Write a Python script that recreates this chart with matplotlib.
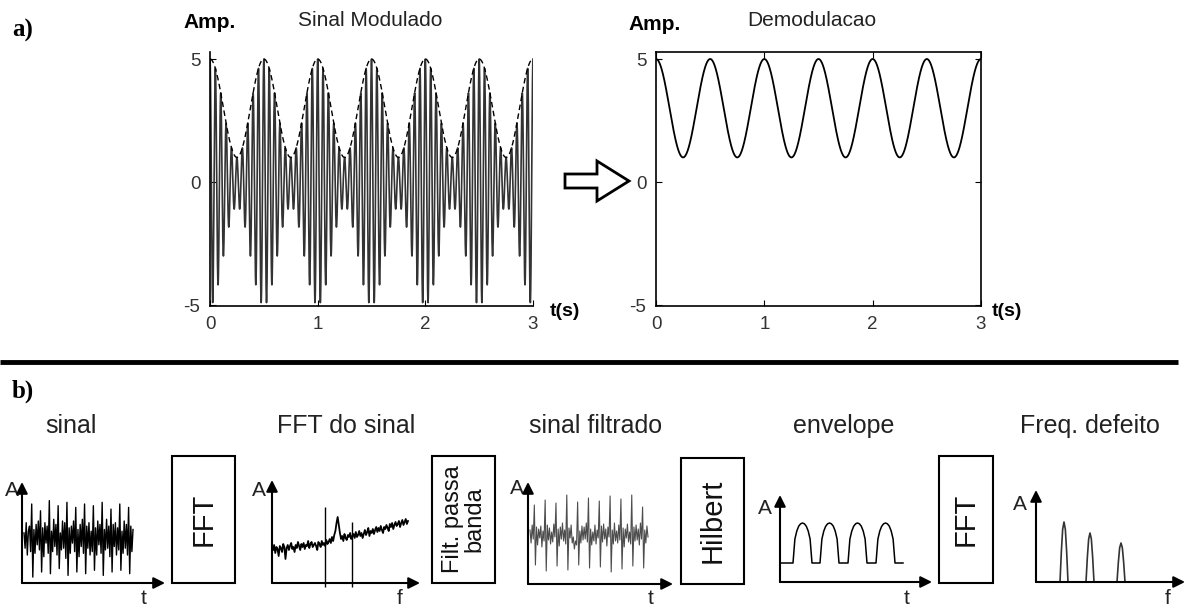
import numpy as np
import matplotlib
matplotlib.use("Agg")
import matplotlib.pyplot as plt
from matplotlib.patches import Rectangle, FancyArrow

plt.rcParams['font.family'] = ['Liberation Sans', 'DejaVu Sans']
plt.rcParams['axes.unicode_minus'] = False

# ---- data ----
# top: AM signal (envelope 1..5, period 0.5 s) and its demodulation
t_ticks = [0, 1, 2, 3]
amp_ticks = [-5, 0, 5]
env_offset = 3.0
env_amp = 2.0
env_freq = 2.0       # Hz
carrier_freq = 20.0  # Hz

# bottom: hand-read traces of the schematic plots
sig_vals = [0.3, -0.6, 0.9, -1.0, 0.4, 0.7, -0.8, 2.0, -2.3, 0.5,
            -0.9, 0.8, -0.4, 1.0, -0.7, 1.6, -2.0, 0.6, -1.1, 0.9,
            -0.3, 0.7, -0.9, 2.2, -2.1, 0.4, -0.8, 1.1, -0.5, 0.8,
            -1.0, 1.9, -1.8, 0.3, -0.7, 1.0, -0.6, 0.9, -1.2, 2.1,
            -2.2, 0.6, -0.9, 0.7, -0.3, 1.0, -0.8, 1.8, -2.0, 0.5,
            -1.1, 0.8, -0.5, 1.1, -0.9, 2.0, -2.1, 0.7, -0.6, 0.9,
            -1.0, 0.4, -0.8, 1.9, -1.9, 0.6, -1.0, 1.0, -0.4, 0.8,
            -0.9, 2.1, -2.2, 0.5, -0.7, 1.1, -0.6, 0.7, -1.1, 1.7,
            -2.0, 0.8, -0.5, 0.9, -1.0, 0.6, -0.7, 2.0, -1.9, 0.4,
            -0.9, 1.0, -0.6, 0.8, -1.0, 1.8, -2.1, 0.7, -0.8, 0.5]

spec_vals = [33, 38, 30, 36, 34, 27, 37, 35, 31, 39, 36, 24, 35, 38, 33, 37, 40, 34, 36, 31,
             38, 35, 41, 37, 33, 39, 36, 40, 34, 38, 37, 42, 35, 39, 41, 36, 38, 40, 37, 33,
             41, 39, 36, 42, 38, 40, 37, 43, 39, 41, 44, 40, 46, 42, 48, 52, 60, 66, 58, 50,
             44, 47, 42, 49, 45, 43, 48, 46, 50, 44, 47, 49, 45, 51, 46, 48, 52, 47, 50, 45,
             49, 53, 48, 51, 55, 47, 52, 50, 54, 49, 53, 56, 51, 55, 52, 57, 53, 50, 56, 54,
             58, 55, 52, 59, 56, 60, 54, 58, 61, 57, 59, 62, 56, 60, 63, 58, 61, 64, 59, 62]
spec_lines_f = [0.385, 0.585]
spec_lines_top = [76, 61]

filt_vals = [5, -8, 10, -4, 30, -30, 8, -10, 6, -3,
             9, -12, 4, -6, 35, -36, 10, -5, 7, -9,
             3, -7, 11, -2, 32, -31, 6, -11, 8, -4,
             12, -6, 5, -9, 40, -35, 7, -3, 10, -8,
             -2, -14, -6, -10, 33, -30, 4, -8, 9, -5,
             8, -4, 12, -7, 37, -33, 6, -10, 3, -6,
             10, -9, 5, -3, 34, -32, 9, -7, 11, -4,
             6, -11, 8, -2, 39, -37, 5, -9, 12, -6,
             4, -8, 10, -5, 36, -34, 7, -12, 6, -3,
             11, -7, 3, -9, 40, -31, 8, -6, 10, -5,
             6, -10, 12, -4, 28, -33, 5, -8, 9, -2]

env_base = 19
env_top = 59
hump_starts = [13, 40, 68, 96]
hump_width = 19
env_end = 123
hump_shape = [0, 0.6, 0.8, 0.92, 0.98, 1.0, 0.98, 0.92, 0.8, 0.6, 0]

peak_pos = [28, 54, 85]
peak_height = [60, 49, 39]
peak_width = 8
peak_shape = [0, 0.5, 0.88, 1.0, 0.88, 0.5, 0]

titles_b = ["sinal", "FFT do sinal", "sinal filtrado", "envelope", "Freq. defeito"]

# ---- figure ----
W, H = 1187, 608
fig = plt.figure(figsize=(W / 100, H / 100), dpi=100)


def px_axes(x0, y0, x1, y1):
    ax = fig.add_axes([x0 / W, 1 - y1 / H, (x1 - x0) / W, (y1 - y0) / H])
    ax.patch.set_visible(False)
    return ax


def span(a0, a1, p0, p1, v0, v1):
    k = (v1 - v0) / (p1 - p0)
    return v0 + (a0 - p0) * k, v0 + (a1 - p0) * k


bg = fig.add_axes([0, 0, 1, 1])
bg.set_xlim(0, W)
bg.set_ylim(H, 0)
bg.axis('off')

# ---- a) top plots ----
t = np.linspace(0, 3, 6001)
env = env_offset + env_amp * np.cos(2 * np.pi * env_freq * t)
sig = env * np.cos(2 * np.pi * carrier_freq * t)

ax1 = px_axes(210, 52, 533, 306)
ax1.plot(t, sig, color='0.2', lw=1.2)
ax1.plot(t, env, color='k', lw=1.0, dashes=(4, 2.5))
ax1.spines['top'].set_visible(False)
ax1.spines['right'].set_visible(False)

ax2 = px_axes(656, 52, 981, 306)
ax2.plot(t, env, color='k', lw=1.3)
ax2.tick_params(top=True, right=True)

for ax in (ax1, ax2):
    ax.set_xlim(0, 3)
    ax.set_ylim(-5.04, 5.285)
    ax.set_xticks(t_ticks)
    ax.set_yticks(amp_ticks)
    ax.tick_params(direction='in', length=4, labelsize=13.5, pad=7, labelcolor='#333')
    for s in ax.spines.values():
        s.set_linewidth(1.2)

bg.text(12, 30, "a)", fontsize=18, fontweight='bold', family='Liberation Serif', va='center')
bg.text(183, 23, "Amp.", fontsize=15, fontweight='bold', va='center')
bg.text(628, 25, "Amp.", fontsize=15, fontweight='bold', va='center')
bg.text(370, 20, "Sinal Modulado", fontsize=15, ha='center', va='center', color='#222')
bg.text(812, 20, "Demodulacao", fontsize=15, ha='center', va='center', color='#222')
bg.text(550, 312, "t(s)", fontsize=14, fontweight='bold', va='center')
bg.text(992, 312, "t(s)", fontsize=14, fontweight='bold', va='center')
bg.add_patch(FancyArrow(565, 181, 64, 0, width=14, head_width=40, head_length=32,
                        length_includes_head=True, fc='white', ec='k', lw=2))

bg.plot([0, 1178], [362, 362], color='k', lw=3.5, solid_capstyle='butt')

# ---- b) schematic chain ----
bg.text(12, 391, "b)", fontsize=18, fontweight='bold', family='Liberation Serif', va='center')
for x, s in zip([71, 346, 596, 844, 1090], titles_b):
    bg.text(x, 426, s, fontsize=18, ha='center', va='center', color='#222')

boxes = [(172, 456, 235, 583, "FFT", 21),
         (432, 456, 495, 583, "Filt. passa\nbanda", 17),
         (681, 458, 744, 584, "Hilbert", 21),
         (939, 456, 993, 583, "FFT", 21)]
for x0, y0, x1, y1, label, fs in boxes:
    bg.add_patch(Rectangle((x0, y0), x1 - x0, y1 - y0, fill=False, ec='k', lw=1.5))
    bg.text((x0 + x1) / 2, (y0 + y1) / 2, label, rotation=90, fontsize=fs, ha='center',
            va='center', multialignment='center', linespacing=1.0, color='#111')


def mini(x0, y0, x1, y1):
    ax = px_axes(x0, y0, x1, y1)
    ax.axis('off')
    ap = dict(arrowstyle='-|>', color='k', lw=1.5, mutation_scale=17, shrinkA=0, shrinkB=0)
    ax.annotate('', xy=(1, 0), xytext=(0, 0), xycoords='axes fraction', arrowprops=ap)
    ax.annotate('', xy=(0, 1), xytext=(0, 0), xycoords='axes fraction', arrowprops=ap)
    return ax


# sinal
m1 = mini(22, 482, 165, 583)
m1.plot(np.arange(len(sig_vals)), sig_vals, color='k', lw=1.0)
m1.set_xlim(*span(22, 165, 24, 133, 0, len(sig_vals) - 1))
m1.set_ylim(*span(583, 482, 538, 521, 0, 1))

# FFT do sinal
m2 = mini(272, 480, 420, 583)
f = np.arange(len(spec_vals)) / (len(spec_vals) - 1)
m2.plot(f, spec_vals, color='k', lw=1.3)
m2.vlines(spec_lines_f, -4, spec_lines_top, color='k', lw=1.0, clip_on=False)
m2.set_xlim(*span(272, 420, 273, 408, 0, 1))
m2.set_ylim(0, 103)

# sinal filtrado
m3 = mini(528, 482, 673, 584)
m3.plot(np.arange(len(filt_vals)), filt_vals, color='0.3', lw=0.8)
m3.set_xlim(*span(528, 673, 530, 648, 0, len(filt_vals) - 1))
m3.set_ylim(*span(584, 482, 535, 495, 0, 40))

# envelope
m4 = mini(780, 495, 932, 582)
ex, ey = [0], [env_base]
for s in hump_starts:
    for k, h in enumerate(hump_shape):
        ex.append(s + hump_width * k / (len(hump_shape) - 1))
        ey.append(env_base + (env_top - env_base) * h)
ex.append(env_end)
ey.append(env_base)
m4.plot(ex, ey, color='k', lw=1.1)
m4.set_xlim(0, 152)
m4.set_ylim(0, 87)

# Freq. defeito
m5 = mini(1036, 490, 1185, 582)
for p, h in zip(peak_pos, peak_height):
    px = [p - peak_width / 2 + peak_width * k / (len(peak_shape) - 1) for k in range(len(peak_shape))]
    m5.plot(px, [h * v for v in peak_shape], color='0.2', lw=1.2)
m5.set_xlim(0, 149)
m5.set_ylim(0, 92)

for x, y, s in [(12, 490, "A"), (259, 490, "A"), (517, 488, "A"), (765, 508, "A"), (1020, 505, "A"),
                (144, 598, "t"), (400, 598, "f"), (651, 598, "t"), (907, 598, "t"), (1168, 598, "f")]:
    bg.text(x, y, s, fontsize=15, ha='center', va='center', color='#222')

fig.savefig("out.png", dpi=100)
